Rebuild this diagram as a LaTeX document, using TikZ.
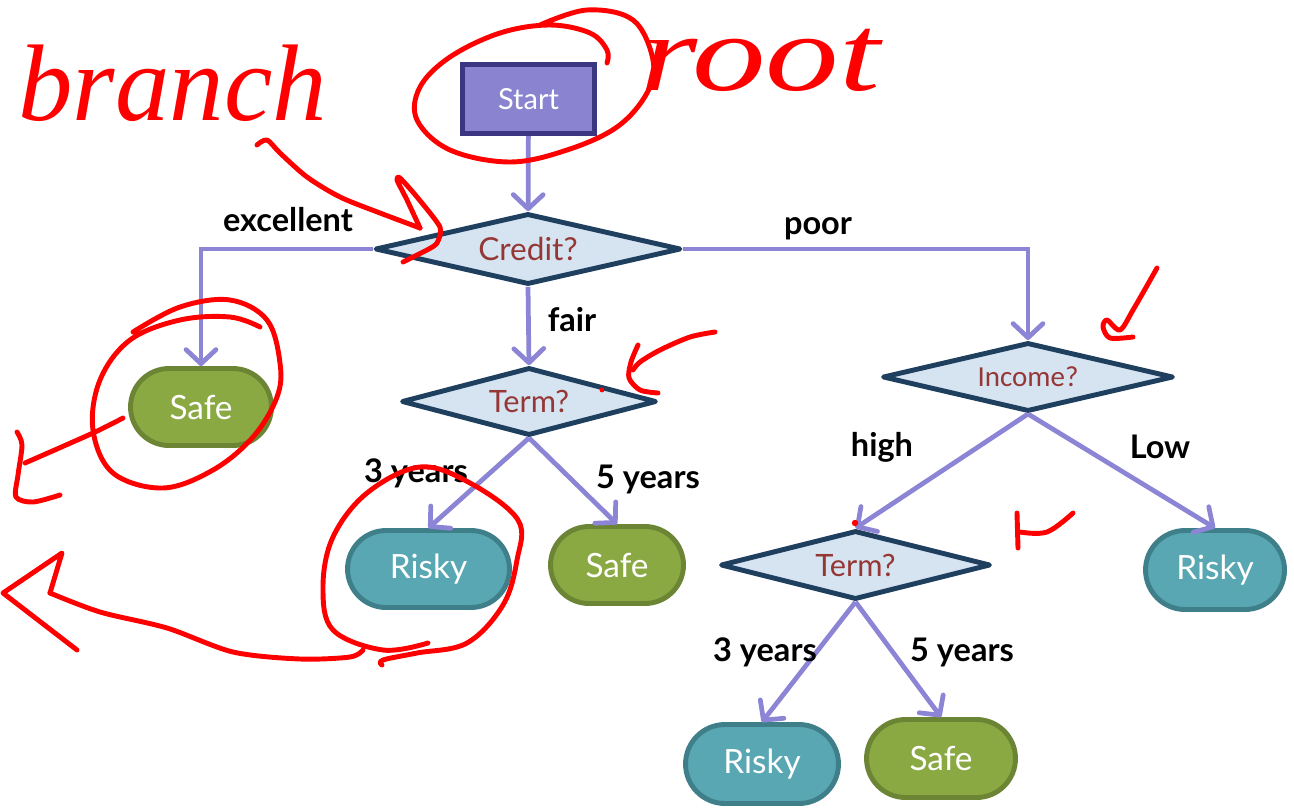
\documentclass[tikz,border=0pt]{standalone}
\usepackage{fontspec}
\usepackage{graphicx}
\setmainfont{Lato}
\newfontfamily\calibrilike{Carlito}
\newfontfamily\handfont{Liberation Serif}
\usetikzlibrary{shapes.geometric,shapes.misc,arrows.meta}

\definecolor{flow}{HTML}{8C84D4}
\definecolor{startfill}{HTML}{8A83D0}
\definecolor{startline}{HTML}{3B3680}
\definecolor{askfill}{HTML}{D6E4F1}
\definecolor{askline}{HTML}{1E3F5E}
\definecolor{asktext}{HTML}{953735}
\definecolor{safefill}{HTML}{8BA943}
\definecolor{safeline}{HTML}{6B8535}
\definecolor{riskfill}{HTML}{58A7B3}
\definecolor{riskline}{HTML}{3F7F8A}
\definecolor{ink}{HTML}{FF0000}

\tikzset{
  startbox/.style={rectangle, draw=startline, fill=startfill, line width=3pt,
    text=white, font=\fontsize{16.5}{19}\selectfont, inner sep=0pt},
  ask/.style={diamond, aspect=4, draw=askline, fill=askfill, line width=2.8pt,
    line join=round, text=asktext, inner sep=0pt, font=\fontsize{18}{21}\selectfont},
  leaf/.style={rounded rectangle, line width=2.8pt, text=white, inner sep=0pt,
    font=\fontsize{19}{22}\selectfont},
  safeleaf/.style={leaf, draw=safeline, fill=safefill},
  riskleaf/.style={leaf, draw=riskline, fill=riskfill},
  branch/.style={draw=flow, line width=2.7pt,
    -{Straight Barb[length=8pt,width=17pt,round]}},
  choice/.style={font=\bfseries\fontsize{18.5}{21}\selectfont, text=black, inner sep=0pt},
  pen/.style={draw=ink, line width=2.8pt, line cap=round, line join=round},
  scrawl/.style={text=ink, inner sep=0pt, font=\handfont\itshape\fontsize{62}{70}\selectfont}
}

\begin{document}
\begin{tikzpicture}[x=0.02cm, y=-0.02cm]
\useasboundingbox (0,0) rectangle (1294,808);

% ---------------- decision tree ----------------
\node[startbox, minimum width=2.64cm, minimum height=1.38cm] (start) at (528.5,99) {Start};

\node[ask, minimum width=6.12cm, minimum height=1.42cm] (credit) at (528,249) {Credit?};
\node[ask, minimum width=5.10cm, minimum height=1.36cm, font=\fontsize{17.5}{21}\selectfont] (term1) at (529,401.5) {Term?};
\node[ask, minimum width=5.82cm, minimum height=1.38cm, font=\calibrilike\fontsize{16.5}{20}\selectfont] (income) at (1028,377) {Income?};
\node[ask, minimum width=5.40cm, minimum height=1.38cm, font=\fontsize{17.5}{21}\selectfont] (term2) at (855.5,565) {Term?};

\node[safeleaf, minimum width=2.82cm, minimum height=1.54cm] (safe1) at (201,407) {Safe};
\node[riskleaf, minimum width=3.24cm, minimum height=1.54cm] (risky1) at (428.5,569) {Risky};
\node[safeleaf, minimum width=2.66cm, minimum height=1.54cm] (safe2) at (617,565) {Safe};
\node[riskleaf, minimum width=3.06cm, minimum height=1.58cm] (risky2) at (762,764) {Risky};
\node[safeleaf, minimum width=2.98cm, minimum height=1.56cm] (safe3) at (941,758.5) {Safe};
\node[riskleaf, minimum width=2.78cm, minimum height=1.58cm] (risky3) at (1215,570) {Risky};

% connectors
\draw[branch] (start) -- (credit);
\draw[branch] (credit.west) -| (safe1.north);
\draw[branch] (credit.south) -- (term1.north);
\draw[branch] (credit.east) -| (income.north);
\draw[branch] (term1.south) -- (risky1.north);
\draw[branch] (term1.south) -- (safe2.north);
\draw[branch] (income.south) -- (term2.north);
\draw[branch] (income.south) -- (risky3.north);
\draw[branch] (term2.south) -- (risky2.north);
\draw[branch] (term2.south) -- (safe3.north);

% branch labels
\node[choice] (l-exc) at (288,220) {excellent};
\node[choice] (l-fair) at (572,320) {fair};
\node[choice] (l-poor) at (818,229) {poor};
\node[choice] (l-3a) at (416,473) {3 years};
\node[choice] (l-5a) at (648,479) {5 years};
\node[choice] (l-high) at (882,447) {high};
\node[choice] (l-low) at (1160,447) {Low};
\node[choice] (l-3b) at (765,652) {3 years};
\node[choice] (l-5b) at (962,652) {5 years};

% ---------------- red pen notes ----------------
\node[scrawl, anchor=base west] (w-branch) at (18,120) {branch};
\node[scrawl, anchor=base west] (w-root) at (640,90) {\scalebox{1.35}[1]{root}};

% loop round the start box
\draw[pen] plot[smooth, tension=0.6] coordinates {(540,25) (587,10) (633,20) (653,60) (647,93)
  (617,127) (567,150) (510,162) (450,150) (417,120) (420,87) (450,57) (500,33) (550,25)
  (590,33) (607,50) (607,63)};

% arrow at the first split
\draw[pen] plot[smooth, tension=0.5] coordinates {(257,145) (267,140) (280,153) (307,177)
  (340,197) (380,213) (420,228)};
\draw[pen] plot[smooth, tension=0.4] coordinates {(420,228) (407,200) (397,180) (400,178)
  (417,197) (440,227) (437,243) (427,250) (403,262)};

% loop round the left leaf and its arrow
\draw[pen] plot[smooth, tension=0.6] coordinates {(133,332) (180,307) (230,300) (267,320)
  (280,363) (277,397) (253,437) (213,470) (163,488) (113,473) (93,430) (100,380) (130,340)
  (180,320) (230,317) (260,327)};
\draw[pen] plot[smooth, tension=0.5] coordinates {(123,418) (93,433) (25,463)};
\draw[pen] plot[smooth, tension=0.5] coordinates {(17,432) (22,445) (18,475) (16,497)
  (33,502) (60,495)};

% arrow at the second split
\draw[pen] plot[smooth, tension=0.5] coordinates {(715,332) (690,337) (660,350) (640,362) (633,370)};
\draw[pen] plot[smooth, tension=0.5] coordinates {(638,345) (631,362) (629,378) (640,390) (658,393)};
\fill[ink] (602,390) circle (2.4);

% tick beside the income test
\draw[pen] plot[smooth, tension=0.5] coordinates {(1157,268) (1133,310) (1120,330) (1107,320)
  (1103,327) (1110,338) (1133,337)};

% mark beside the lower term test
\fill[ink] (855,523) circle (3.2);
\draw[pen] (1017,513) -- (1018,548);
\draw[pen] plot[smooth, tension=0.6] coordinates {(1020,532) (1047,532) (1073,513)};

% loop round the risky leaf and the long arrow
\draw[pen] plot[smooth, tension=0.6] coordinates {(428,643) (383,650) (333,630) (323,587)
  (333,537) (367,493) (420,467) (470,483) (518,520) (517,560) (503,605) (467,643)
  (417,653) (383,660) (382,665)};
\draw[pen] plot[smooth, tension=0.5] coordinates {(363,650) (350,657) (300,659) (233,652)
  (167,628) (100,612) (50,593)};
\draw[pen] (50,593) -- (62,553) -- (3,593) -- (77,650);

\end{tikzpicture}
\end{document}
